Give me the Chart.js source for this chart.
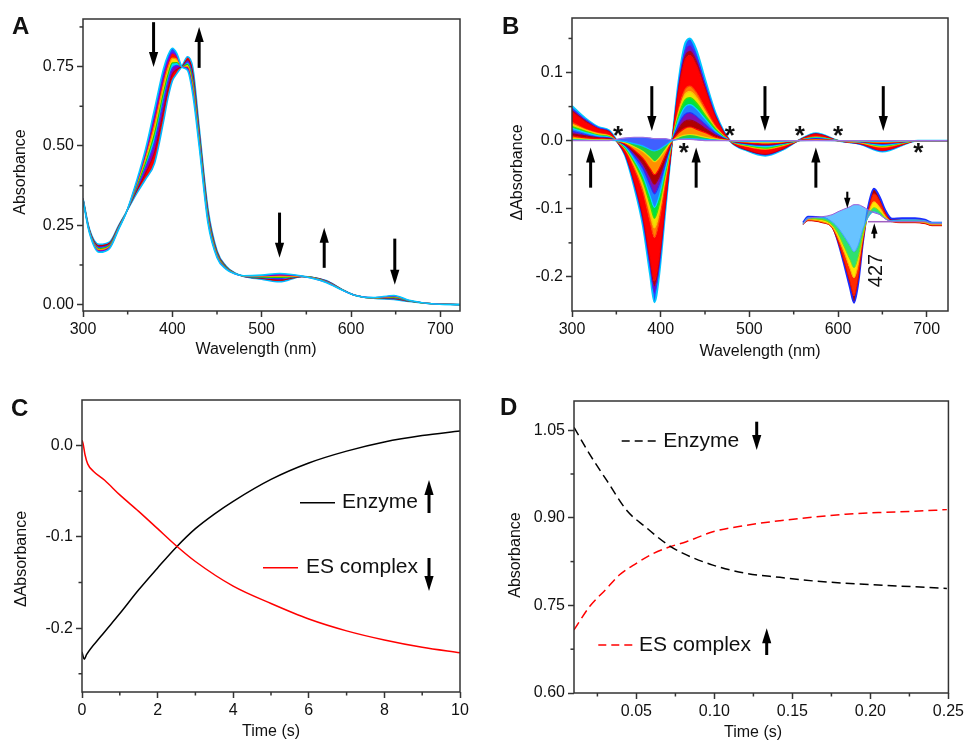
<!DOCTYPE html>
<html>
<head>
<meta charset="utf-8">
<script src="https://cdn.jsdelivr.net/npm/chart.js@4.4.1/dist/chart.umd.min.js"></script>
<style>
  html, body { margin: 0; padding: 0; background: #fff; }
  #wrap { position: relative; width: 967px; height: 740px; overflow: hidden; }
  canvas { position: absolute; display: block; }
</style>
</head>
<body>
<div id="wrap">
  <canvas id="chartA" width="483" height="370" style="left:0;top:0"></canvas>
  <canvas id="chartB" width="484" height="370" style="left:483px;top:0"></canvas>
  <canvas id="chartBInset" width="146" height="124" style="left:800px;top:183px"></canvas>
  <canvas id="chartC" width="483" height="370" style="left:0;top:370px"></canvas>
  <canvas id="chartD" width="484" height="370" style="left:483px;top:370px"></canvas>
</div>
<script>
// ── Panel A: absorbance spectra, first scan → last scan ──────
const aWavelength = [300, 307, 318, 330, 340, 348, 360, 370, 380, 390, 395, 400, 405, 411, 417, 423, 430, 440, 450, 460, 470, 480, 500, 520, 545, 572, 590, 605, 625, 648, 665, 690, 722];
const aSpectra = [
  [0.330, 0.228, 0.165, 0.178, 0.238, 0.287, 0.390, 0.490, 0.615, 0.742, 0.785, 0.808, 0.792, 0.748, 0.738, 0.660, 0.500, 0.255, 0.148, 0.112, 0.097, 0.091, 0.093, 0.098, 0.090, 0.070, 0.046, 0.029, 0.022, 0.029, 0.014, 0.003, 0.000],
  [0.331, 0.230, 0.169, 0.181, 0.240, 0.287, 0.384, 0.476, 0.590, 0.717, 0.765, 0.793, 0.782, 0.749, 0.744, 0.673, 0.509, 0.262, 0.151, 0.114, 0.097, 0.091, 0.091, 0.094, 0.090, 0.071, 0.046, 0.029, 0.022, 0.027, 0.013, 0.003, 0.000],
  [0.332, 0.232, 0.173, 0.184, 0.242, 0.288, 0.378, 0.462, 0.564, 0.692, 0.745, 0.777, 0.773, 0.749, 0.751, 0.686, 0.518, 0.269, 0.155, 0.115, 0.098, 0.090, 0.089, 0.090, 0.089, 0.072, 0.047, 0.029, 0.021, 0.025, 0.013, 0.003, 0.000],
  [0.332, 0.233, 0.176, 0.187, 0.243, 0.288, 0.372, 0.447, 0.539, 0.667, 0.724, 0.762, 0.763, 0.750, 0.757, 0.698, 0.527, 0.275, 0.158, 0.117, 0.098, 0.090, 0.087, 0.086, 0.089, 0.073, 0.047, 0.029, 0.021, 0.023, 0.012, 0.003, 0.000],
  [0.333, 0.235, 0.180, 0.190, 0.245, 0.288, 0.366, 0.433, 0.513, 0.642, 0.704, 0.746, 0.754, 0.750, 0.764, 0.711, 0.536, 0.282, 0.161, 0.118, 0.099, 0.090, 0.085, 0.082, 0.089, 0.074, 0.047, 0.029, 0.021, 0.021, 0.012, 0.003, 0.000],
  [0.334, 0.238, 0.185, 0.194, 0.248, 0.289, 0.358, 0.414, 0.479, 0.608, 0.677, 0.726, 0.741, 0.751, 0.772, 0.728, 0.548, 0.291, 0.166, 0.120, 0.099, 0.089, 0.083, 0.077, 0.088, 0.075, 0.048, 0.029, 0.020, 0.019, 0.011, 0.003, 0.000],
  [0.335, 0.240, 0.190, 0.198, 0.250, 0.289, 0.350, 0.395, 0.445, 0.575, 0.650, 0.705, 0.728, 0.752, 0.781, 0.745, 0.560, 0.300, 0.170, 0.122, 0.100, 0.089, 0.080, 0.072, 0.088, 0.076, 0.048, 0.029, 0.020, 0.016, 0.010, 0.003, 0.000]
];
const aXTicks = [300, 400, 500, 600, 700];
const aXMinor = [350, 450, 550, 650];
const aYTicks = [0, 0.25, 0.5, 0.75];
const aYMinor = [0.125, 0.375, 0.625, 0.875];

// ── Panel B: difference spectra, smallest → largest ─────────
const bWavelength = [300, 315, 330, 342, 350, 360, 370, 380, 388, 393, 398, 405, 413, 420, 427, 433, 440, 450, 462, 478, 498, 518, 538, 555, 575, 600, 625, 650, 690, 724];
const bDiffSpectra = [
  [0, 0, 0, 0, 0.002, 0.004, 0.005, 0.005, 0.004, 0.003, 0.003, 0.003, 0.001, 0.002, 0.002, 0.002, 0.001, 0, 0, 0, 0, 0, 0, 0, 0, 0, 0, 0, 0, 0],
  [0.001, 0.0007, 0.0004, 0.0003, 0, -0.0014, -0.0044, -0.008, -0.013, -0.015, -0.013, -0.007, 0, 0.0017, 0.0028, 0.003, 0.0027, 0.0018, 0.0008, 0, -0.001, -0.0014, -0.0008, 0, 0.0002, 0, -0.0003, -0.001, 0, 0],
  [0.003, 0.002, 0.001, 0.001, 0, -0.003, -0.009, -0.016, -0.025, -0.031, -0.026, -0.014, 0, 0.005, 0.008, 0.009, 0.008, 0.005, 0.0024, 0, -0.002, -0.003, -0.0017, 0, 0.0007, 0, -0.0007, -0.002, 0, 0],
  [0.007, 0.004, 0.003, 0.002, 0, -0.005, -0.014, -0.026, -0.041, -0.050, -0.042, -0.022, 0, 0.011, 0.018, 0.020, 0.017, 0.012, 0.005, 0, -0.003, -0.0046, -0.0027, 0, 0.0014, 0, -0.001, -0.0034, 0, 0],
  [0.010, 0.007, 0.004, 0.003, 0, -0.006, -0.018, -0.034, -0.053, -0.064, -0.054, -0.029, 0, 0.017, 0.028, 0.030, 0.027, 0.018, 0.008, 0, -0.004, -0.006, -0.0035, 0, 0.002, 0, -0.001, -0.004, 0, 0],
  [0.014, 0.009, 0.005, 0.004, 0, -0.007, -0.022, -0.041, -0.065, -0.078, -0.066, -0.035, 0, 0.023, 0.038, 0.041, 0.036, 0.024, 0.011, 0, -0.005, -0.007, -0.004, 0, 0.003, 0, -0.002, -0.005, 0, 0],
  [0.018, 0.012, 0.007, 0.005, 0, -0.009, -0.028, -0.052, -0.081, -0.098, -0.083, -0.044, 0, 0.030, 0.049, 0.053, 0.047, 0.032, 0.014, 0, -0.006, -0.009, -0.005, 0, 0.004, 0, -0.002, -0.007, 0, 0],
  [0.021, 0.014, 0.008, 0.006, 0, -0.011, -0.032, -0.060, -0.094, -0.114, -0.096, -0.051, 0, 0.036, 0.059, 0.063, 0.056, 0.038, 0.017, 0, -0.007, -0.011, -0.006, 0, 0.005, 0, -0.002, -0.008, 0, 0],
  [0.024, 0.016, 0.010, 0.007, 0, -0.012, -0.036, -0.068, -0.106, -0.128, -0.108, -0.057, 0, 0.041, 0.067, 0.072, 0.064, 0.043, 0.019, 0, -0.008, -0.012, -0.007, 0, 0.005, 0, -0.003, -0.009, 0, 0],
  [0.027, 0.017, 0.011, 0.008, 0, -0.013, -0.040, -0.075, -0.118, -0.142, -0.120, -0.064, 0, 0.045, 0.074, 0.080, 0.071, 0.048, 0.021, 0, -0.009, -0.013, -0.008, 0, 0.006, 0, -0.003, -0.010, 0, 0],
  [0.042, 0.027, 0.017, 0.012, 0, -0.019, -0.058, -0.109, -0.171, -0.206, -0.174, -0.092, 0, 0.071, 0.116, 0.125, 0.111, 0.075, 0.033, 0, -0.013, -0.019, -0.011, 0, 0.009, 0, -0.004, -0.014, 0, 0],
  [0.044, 0.029, 0.017, 0.013, 0, -0.020, -0.060, -0.113, -0.176, -0.213, -0.180, -0.095, 0, 0.074, 0.122, 0.131, 0.117, 0.078, 0.035, 0, -0.014, -0.020, -0.012, 0, 0.010, 0, -0.0045, -0.014, 0, 0],
  [0.047, 0.031, 0.019, 0.014, 0, -0.021, -0.063, -0.118, -0.185, -0.224, -0.189, -0.100, 0, 0.079, 0.130, 0.140, 0.125, 0.084, 0.037, 0, -0.014, -0.021, -0.012, 0, 0.010, 0, -0.005, -0.015, 0, 0],
  [0.051, 0.033, 0.020, 0.015, 0.001, -0.022, -0.067, -0.125, -0.196, -0.237, -0.200, -0.106, 0, 0.085, 0.140, 0.150, 0.134, 0.090, 0.040, 0, -0.015, -0.022, -0.013, 0, 0.011, 0, -0.005, -0.016, 0, 0]
];
const bXTicks = [300, 400, 500, 600, 700];
const bXMinor = [350, 450, 550, 650];
const bYTicks = [-0.2, -0.1, 0, 0.1];
const bYMinor = [-0.15, -0.05, 0.05, 0.15];

// inset of panel B (arbitrary units, no axes)
const bInsetX = [0, 5, 19, 29, 35, 42, 47, 51, 55, 60, 65, 71, 77, 82, 89, 99, 112, 122, 129, 139];
const bInsetSpectra = [
  [-0.03, 0.03, 0.05, 0.07, 0.10, 0.13, 0.15, 0.17, 0.17, 0.15, 0.12, 0.09, 0.07, 0.03, 0.00, 0.00, 0.00, 0.00, -0.02, -0.02],
  [-0.02, 0.04, 0.04, 0.00, -0.06, -0.16, -0.24, -0.30, -0.24, -0.07, 0.04, 0.10, 0.07, 0.03, 0.01, 0.02, 0.02, 0.01, -0.01, -0.01],
  [-0.02, 0.03, 0.02, -0.03, -0.12, -0.27, -0.38, -0.46, -0.36, -0.12, 0.05, 0.14, 0.10, 0.04, 0.00, 0.01, 0.01, 0.00, -0.02, -0.02],
  [-0.03, 0.02, 0.00, -0.05, -0.16, -0.33, -0.47, -0.56, -0.44, -0.15, 0.07, 0.20, 0.14, 0.06, 0.00, 0.00, 0.00, -0.01, -0.03, -0.03],
  [-0.03, 0.01, -0.01, -0.06, -0.20, -0.43, -0.61, -0.74, -0.58, -0.20, 0.10, 0.28, 0.20, 0.09, 0.00, -0.01, -0.01, -0.02, -0.04, -0.04],
  [-0.01, 0.05, 0.04, -0.03, -0.20, -0.46, -0.66, -0.81, -0.63, -0.20, 0.14, 0.33, 0.24, 0.12, 0.03, 0.035, 0.035, 0.02, -0.01, -0.01]
];
const bInsetBaseX = [65, 89];
const bInsetBaseY = [0, 0];

// ── Panel C: ΔA traces over 10 s ─────────────────────────────
const cEnzymeT = [0, 0.06, 0.12, 0.5, 1, 1.5, 2, 2.5, 3, 3.5, 4, 5, 6, 7, 8, 9, 10];
const cEnzymeDA = [-0.226, -0.234, -0.229, -0.209, -0.184, -0.158, -0.134, -0.111, -0.091, -0.075, -0.061, -0.037, -0.019, -0.006, 0.004, 0.011, 0.016];
const cComplexT = [0, 0.03, 0.08, 0.15, 0.3, 0.6, 1, 1.5, 2, 2.5, 3, 4, 5, 6, 7, 8, 9, 10];
const cComplexDA = [0.006, 0.002, -0.010, -0.020, -0.028, -0.038, -0.054, -0.072, -0.091, -0.110, -0.127, -0.154, -0.173, -0.190, -0.203, -0.213, -0.221, -0.227];
const cXTicks = [0, 2, 4, 6, 8, 10];
const cXMinor = [1, 3, 5, 7, 9];
const cYTicks = [-0.2, -0.1, 0];
const cYMinor = [-0.25, -0.15, -0.05];

// ── Panel D: absorbance over the first 0.25 s ───────────────
const dEnzymeT = [0.010, 0.020, 0.031, 0.044, 0.056, 0.069, 0.080, 0.099, 0.120, 0.142, 0.163, 0.184, 0.205, 0.227, 0.249];
const dEnzymeA = [1.055, 1.009, 0.964, 0.912, 0.884, 0.856, 0.839, 0.819, 0.805, 0.798, 0.792, 0.788, 0.785, 0.782, 0.779];
const dComplexT = [0.010, 0.020, 0.031, 0.039, 0.050, 0.061, 0.071, 0.082, 0.099, 0.120, 0.142, 0.163, 0.184, 0.205, 0.227, 0.249];
const dComplexA = [0.708, 0.748, 0.779, 0.802, 0.822, 0.839, 0.850, 0.859, 0.876, 0.887, 0.895, 0.901, 0.906, 0.909, 0.911, 0.914];
const dXTicks = [0.05, 0.10, 0.15, 0.20, 0.25];
const dXMinor = [0.025, 0.075, 0.125, 0.175, 0.225];
const dYTicks = [0.60, 0.75, 0.90, 1.05];
const dYMinor = [0.675, 0.825, 0.975];

// ── Styles ───────────────────────────────────────────────────
const FONT = "'Liberation Sans', Arial, Helvetica, sans-serif";
const INK = '#111';
const AXIS = '#333';
Chart.defaults.font.family = FONT;
Chart.defaults.color = INK;

const aLineColors = ['#00c8ff', '#8000d0', '#ff9000', '#20d000', '#2040ff', '#c00000', '#00b8ff'];
const aFillColors = [null, '#3040ff', '#ff1000', '#ffe000', '#00d8ff', '#8a00c0', '#ff0000'];
const bLineColors = ['#a070e0', '#00c0ff', '#e8e000', '#ff0000', '#a00020', '#2030ff', '#00d8ff', '#40e000', '#ffc000', '#ff4000', '#f00000', '#a00030', '#3030ff', '#00c8ff'];
const bFillColors = [null, '#4060ff', '#20d040', '#ff9000', '#b00000', '#8010b0', '#2080ff', '#00e040', '#f0e000', '#ff8000', '#ff0000', '#b00010', '#7010c0', '#2050ff'];
const bInsetLineColors = ['#9a60d8', '#3aa0ff', '#7ee000', '#ffa000', '#e00000', '#1a2cff'];
const bInsetFillColors = [null, 'rgba(40,170,255,0.7)', '#30e070', '#ffe400', '#ff2a00', '#b00000'];

function lineSet(xs, ys, color, extra) {
  return Object.assign({
    data: xs.map((x, i) => ({ x, y: ys[i] })),
    borderColor: color, borderWidth: 1.5,
    pointRadius: 0, fill: false,
    cubicInterpolationMode: 'monotone'
  }, extra || {});
}

const GRID = { display: true, drawOnChartArea: false, drawTicks: true, tickLength: 6, tickWidth: 1.5, tickColor: AXIS };

function scaleX(min, max, ticks, digits, height) {
  return {
    type: 'linear', min, max,
    afterBuildTicks: s => { s.ticks = ticks.map(value => ({ value })); },
    afterFit: s => { s.height = height; },
    grid: GRID, border: { display: false },
    ticks: { font: { size: 16 }, color: INK, padding: 3, maxRotation: 0, autoSkip: false,
             callback: v => Number(v).toFixed(digits) }
  };
}

function scaleY(min, max, ticks, digits, width) {
  return {
    type: 'linear', min, max,
    afterBuildTicks: s => { s.ticks = ticks.map(value => ({ value })); },
    afterFit: s => { s.width = width; },
    grid: GRID, border: { display: false },
    ticks: { font: { size: 16 }, color: INK, padding: 3, autoSkip: false,
             callback: v => Number(v).toFixed(digits) }
  };
}

function baseOptions(padding, x, y) {
  return {
    responsive: false, animation: false, events: [],
    layout: { padding: Object.assign({ left: 0, top: 0, right: 0, bottom: 0 }, padding) },
    plugins: { legend: { display: false }, tooltip: { enabled: false } },
    scales: { x, y }
  };
}

function arrowPx(ctx, x, y0, y1, s) {
  const dir = Math.sign(y1 - y0);
  const headL = 15 * s, headW = 4.6 * s;
  ctx.save();
  ctx.strokeStyle = '#000'; ctx.fillStyle = '#000';
  ctx.lineWidth = 3 * s;
  ctx.beginPath(); ctx.moveTo(x, y0); ctx.lineTo(x, y1 - dir * headL * 0.7); ctx.stroke();
  ctx.beginPath();
  ctx.moveTo(x, y1);
  ctx.lineTo(x - headW, y1 - dir * headL);
  ctx.lineTo(x + headW, y1 - dir * headL);
  ctx.closePath(); ctx.fill();
  ctx.restore();
}

// frame, minor ticks, arrows, labels and keys drawn over each panel
function decor(cfg) {
  return {
    id: 'decor',
    afterDraw(chart) {
      const { ctx, chartArea: ca } = chart;
      const sx = chart.scales.x, sy = chart.scales.y;
      ctx.save();
      if (cfg.frame) {
        ctx.strokeStyle = AXIS; ctx.lineWidth = 1.5;
        ctx.strokeRect(ca.left, ca.top, ca.right - ca.left, ca.bottom - ca.top);
        (cfg.minorX || []).forEach(v => {
          const px = sx.getPixelForValue(v);
          ctx.beginPath(); ctx.moveTo(px, ca.bottom); ctx.lineTo(px, ca.bottom + 3.5); ctx.stroke();
        });
        (cfg.minorY || []).forEach(v => {
          const py = sy.getPixelForValue(v);
          ctx.beginPath(); ctx.moveTo(ca.left, py); ctx.lineTo(ca.left - 3.5, py); ctx.stroke();
        });
      }
      (cfg.arrows || []).forEach(a => {
        arrowPx(ctx, sx.getPixelForValue(a.x), sy.getPixelForValue(a.from), sy.getPixelForValue(a.to), a.s || 1);
      });
      ctx.fillStyle = INK;
      (cfg.stars || []).forEach(p => {
        ctx.font = 'bold 26px ' + FONT; ctx.textAlign = 'center'; ctx.textBaseline = 'alphabetic';
        ctx.fillText('*', sx.getPixelForValue(p.x), sy.getPixelForValue(p.y) + 15);
      });
      (cfg.texts || []).forEach(t => {
        ctx.save();
        ctx.translate(sx.getPixelForValue(t.x), sy.getPixelForValue(t.y));
        ctx.rotate((t.rotate || 0) * Math.PI / 180);
        ctx.font = t.size + 'px ' + FONT; ctx.textAlign = 'center'; ctx.textBaseline = 'middle';
        ctx.fillText(t.text, 0, 0);
        ctx.restore();
      });
      (cfg.titles || []).forEach(t => {
        ctx.save();
        ctx.translate(t.x, t.y);
        if (t.rotate) ctx.rotate(t.rotate * Math.PI / 180);
        ctx.font = '16px ' + FONT; ctx.textAlign = 'center'; ctx.textBaseline = 'middle';
        ctx.fillText(t.text, 0, 0);
        ctx.restore();
      });
      if (cfg.letter) {
        ctx.font = 'bold 24px ' + FONT; ctx.textAlign = 'left'; ctx.textBaseline = 'alphabetic';
        ctx.fillText(cfg.letter.text, cfg.letter.x, cfg.letter.y);
      }
      (cfg.keys || []).forEach(k => {
        ctx.save();
        ctx.strokeStyle = k.color; ctx.lineWidth = 1.5; ctx.setLineDash(k.dash || []);
        ctx.beginPath(); ctx.moveTo(k.x1, k.y); ctx.lineTo(k.x2, k.y); ctx.stroke();
        ctx.restore();
        ctx.font = '21px ' + FONT; ctx.textAlign = 'left'; ctx.textBaseline = 'middle';
        ctx.fillText(k.text, k.tx, k.y);
        arrowPx(ctx, k.arrow.x, k.arrow.from, k.arrow.to, 1);
      });
      ctx.restore();
    }
  };
}

// ── A ────────────────────────────────────────────────────────
new Chart(document.getElementById('chartA'), {
  type: 'line',
  data: {
    datasets: aSpectra.map((ys, i) => lineSet(aWavelength, ys, aLineColors[i], {
      borderWidth: (i === 0 || i === aSpectra.length - 1) ? 1.6 : 1.2,
      fill: i === 0 ? false : '-1',
      backgroundColor: aFillColors[i] || 'transparent'
    }))
  },
  options: baseOptions({ top: 19, right: 23 }, scaleX(300, 722, aXTicks, 0, 59), scaleY(-0.02, 0.9, aYTicks, 2, 83)),
  plugins: [decor({
    frame: true, minorX: aXMinor, minorY: aYMinor,
    letter: { text: 'A', x: 12, y: 34 },
    titles: [
      { text: 'Wavelength (nm)', x: 256, y: 349.5 },
      { text: 'Absorbance', x: 21, y: 172, rotate: -90 }
    ],
    arrows: [
      { x: 379, from: 0.89, to: 0.749 },
      { x: 430, from: 0.746, to: 0.875 },
      { x: 520, from: 0.290, to: 0.148 },
      { x: 570, from: 0.116, to: 0.242 },
      { x: 649, from: 0.208, to: 0.063 }
    ]
  })]
});

// ── B ────────────────────────────────────────────────────────
new Chart(document.getElementById('chartB'), {
  type: 'line',
  data: {
    datasets: bDiffSpectra.map((ys, i) => lineSet(bWavelength, ys, bLineColors[i], {
      borderWidth: i === bDiffSpectra.length - 1 ? 2 : 1.2,
      fill: i === 0 ? false : '-1',
      backgroundColor: bFillColors[i] || 'transparent'
    }))
  },
  options: baseOptions({ top: 18, right: 19 }, scaleX(300, 724, bXTicks, 0, 59), scaleY(-0.25, 0.18, bYTicks, 1, 89)),
  plugins: [decor({
    frame: true, minorX: bXMinor, minorY: bYMinor,
    letter: { text: 'B', x: 19, y: 34 },
    titles: [
      { text: 'Wavelength (nm)', x: 277, y: 351.5 },
      { text: 'ΔAbsorbance', x: 34.5, y: 172.5, rotate: -90 }
    ],
    arrows: [
      { x: 321, from: -0.069, to: -0.010 },
      { x: 390, from: 0.080, to: 0.014 },
      { x: 440, from: -0.069, to: -0.010 },
      { x: 517.6, from: 0.080, to: 0.014 },
      { x: 575, from: -0.069, to: -0.010 },
      { x: 651, from: 0.080, to: 0.014 }
    ],
    stars: [
      { x: 352, y: 0.0167 }, { x: 426, y: -0.008 }, { x: 478, y: 0.0167 },
      { x: 557, y: 0.0167 }, { x: 600, y: 0.0167 }, { x: 690.6, y: -0.008 }
    ]
  })]
});

// inset drawn on its own hidden axes
new Chart(document.getElementById('chartBInset'), {
  type: 'line',
  data: {
    datasets: bInsetSpectra.map((ys, i) => lineSet(bInsetX, ys, bInsetLineColors[i], {
      borderWidth: i === bInsetSpectra.length - 1 ? 2 : 1,
      fill: i === 0 ? false : '-1',
      backgroundColor: bInsetFillColors[i] || 'transparent'
    })).concat([lineSet(bInsetBaseX, bInsetBaseY, '#a060c0', { order: -1, cubicInterpolationMode: 'default' })])
  },
  options: {
    responsive: false, animation: false, events: [],
    layout: { padding: 0 },
    plugins: { legend: { display: false }, tooltip: { enabled: false } },
    scales: {
      x: { type: 'linear', display: false, min: -3, max: 143 },
      y: { type: 'linear', display: false, min: -0.853, max: 0.387 }
    }
  },
  plugins: [decor({
    arrows: [
      { x: 44.3, from: 0.30, to: 0.134, s: 0.7 },
      { x: 71.3, from: -0.166, to: -0.016, s: 0.7 }
    ],
    texts: [{ text: '427', x: 73, y: -0.488, size: 20, rotate: -90 }]
  })]
});

// ── C ────────────────────────────────────────────────────────
new Chart(document.getElementById('chartC'), {
  type: 'line',
  data: {
    datasets: [
      lineSet(cComplexT, cComplexDA, '#ff0000'),
      lineSet(cEnzymeT, cEnzymeDA, '#000000')
    ]
  },
  options: baseOptions({ top: 30, right: 23 }, scaleX(0, 10, cXTicks, 0, 48), scaleY(-0.27, 0.05, cYTicks, 1, 82)),
  plugins: [decor({
    frame: true, minorX: cXMinor, minorY: cYMinor,
    letter: { text: 'C', x: 11, y: 46 },
    titles: [
      { text: 'Time (s)', x: 271, y: 361.5 },
      { text: 'ΔAbsorbance', x: 22, y: 189, rotate: -90 }
    ],
    keys: [
      { x1: 300, x2: 335, y: 132.7, color: '#000000', text: 'Enzyme', tx: 342, arrow: { x: 429, from: 143, to: 110 } },
      { x1: 263, x2: 298, y: 197.7, color: '#ff0000', text: 'ES complex', tx: 306, arrow: { x: 429, from: 188, to: 221 } }
    ]
  })]
});

// ── D ────────────────────────────────────────────────────────
new Chart(document.getElementById('chartD'), {
  type: 'line',
  data: {
    datasets: [
      lineSet(dEnzymeT, dEnzymeA, '#000000', { borderDash: [9, 5] }),
      lineSet(dComplexT, dComplexA, '#ff0000', { borderDash: [9, 5] })
    ]
  },
  options: baseOptions({ top: 31, right: 17 }, scaleX(0.01, 0.25, dXTicks, 2, 47), scaleY(0.60, 1.10, dYTicks, 2, 91)),
  plugins: [decor({
    frame: true, minorX: dXMinor, minorY: dYMinor,
    letter: { text: 'D', x: 17, y: 45 },
    titles: [
      { text: 'Time (s)', x: 270, y: 363 },
      { text: 'Absorbance', x: 33, y: 185, rotate: -90 }
    ],
    keys: [
      { x1: 138.7, x2: 173.7, y: 71, color: '#000000', dash: [8, 5], text: 'Enzyme', tx: 180.3, arrow: { x: 273.7, from: 51.7, to: 80 } },
      { x1: 115.3, x2: 150.3, y: 275, color: '#ff0000', dash: [8, 5], text: 'ES complex', tx: 156, arrow: { x: 283.7, from: 285, to: 258.3 } }
    ]
  })]
});
</script>
</body>
</html>
